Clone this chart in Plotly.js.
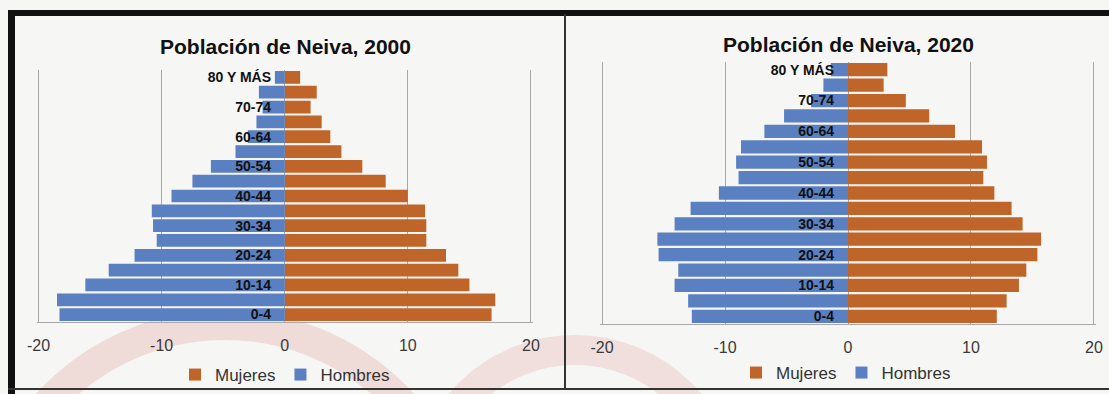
<!DOCTYPE html>
<html>
<head>
<meta charset="utf-8">
<script src="https://cdn.plot.ly/plotly-3.0.1.min.js"></script>
<style>html,body{margin:0;padding:0;background:#f6f6f4;}#chart{width:1109px;height:394px;}</style>
</head>
<body>
<div id="chart"></div>
<script>
// Age groups, bottom to top
const categories = ['0-4','5-9','10-14','15-19','20-24','25-29','30-34','35-39','40-44','45-49','50-54','55-59','60-64','65-69','70-74','75-79','80 Y MÁS'];
const shownLabels = ['0-4','10-14','20-24','30-34','40-44','50-54','60-64','70-74','80 Y MÁS'];
const mujeres2000 = [16.8,17.1,15.0,14.1,13.1,11.5,11.5,11.4,10.0,8.2,6.3,4.6,3.7,3.0,2.1,2.6,1.25];
const hombres2000 = [-18.3,-18.5,-16.2,-14.3,-12.2,-10.4,-10.7,-10.8,-9.2,-7.5,-6.0,-4.0,-3.0,-2.3,-1.8,-2.1,-0.8];
const mujeres2020 = [12.1,12.9,13.9,14.5,15.4,15.7,14.2,13.3,11.9,11.0,11.3,10.9,8.7,6.6,4.7,2.9,3.2];
const hombres2020 = [-12.7,-13.0,-14.1,-13.8,-15.4,-15.5,-14.1,-12.8,-10.5,-8.9,-9.1,-8.7,-6.8,-5.2,-3.0,-2.0,-1.4];
const xTicks = [-20,-10,0,10,20];
const titles = ['Población de Neiva, 2000','Población de Neiva, 2020'];
const seriesNames = ['Mujeres','Hombres'];

const W = 1109, H = 394;
const px = v => v / W, py = v => 1 - v / H;
const ORANGE = '#BF6529', BLUE = '#5B80C2';
const FONT = 'Liberation Sans, Arial, sans-serif';

const traces = [
  {type:'bar', orientation:'h', y:categories, x:mujeres2000, name:seriesNames[0], marker:{color:ORANGE}, xaxis:'x', yaxis:'y', legend:'legend'},
  {type:'bar', orientation:'h', y:categories, x:hombres2000, name:seriesNames[1], marker:{color:BLUE}, xaxis:'x', yaxis:'y', legend:'legend'},
  {type:'bar', orientation:'h', y:categories, x:mujeres2020, name:seriesNames[0], marker:{color:ORANGE}, xaxis:'x2', yaxis:'y2', legend:'legend2'},
  {type:'bar', orientation:'h', y:categories, x:hombres2020, name:seriesNames[1], marker:{color:BLUE}, xaxis:'x2', yaxis:'y2', legend:'legend2'}
];

function xax(domain, anchor){
  return {domain:domain, anchor:anchor, range:[-20.15,20.15], tickvals:xTicks, ticktext:xTicks.map(String),
    showgrid:true, gridcolor:'#a8a8a8', gridwidth:1, zeroline:false, showline:true, linecolor:'#a8a8a8', linewidth:1,
    mirror:false, ticks:'outside', ticklen:9, tickcolor:'rgba(0,0,0,0)',
    tickfont:{family:FONT, size:16, color:'#3a3a3a'}, fixedrange:true};
}
function yax(domain, pos){
  return {domain:domain, anchor:'free', position:pos, type:'category', categoryorder:'array', categoryarray:categories,
    tickvals:shownLabels, ticktext:shownLabels, showgrid:false, zeroline:false, showline:false, ticks:'',
    tickfont:{family:FONT, size:14, color:'#111', weight:'bold'}, layer:'above traces', fixedrange:true};
}

const ring = (cx, cy, r, w, col) => ({type:'circle', xref:'paper', yref:'paper', layer:'below',
  x0:px(cx-r), x1:px(cx+r), y0:py(cy+r), y1:py(cy-r), line:{color:col, width:w}, fillcolor:'rgba(0,0,0,0)'});
const rect = (x0,y0,x1,y1,col) => ({type:'rect', xref:'paper', yref:'paper', layer:'above',
  x0:px(x0), x1:px(x1), y0:py(y1), y1:py(y0), line:{width:0}, fillcolor:col});

const layout = {
  width:W, height:H, margin:{l:0,r:0,t:0,b:0},
  paper_bgcolor:'#f6f6f4', plot_bgcolor:'rgba(0,0,0,0)',
  barmode:'relative', bargap:0.14, showlegend:true,
  xaxis: xax([px(36.7), px(532.8)], 'y'),
  yaxis: yax([py(322), py(70)], px(271)),
  xaxis2: xax([px(600.2), px(1095.8)], 'y2'),
  yaxis2: yax([py(324), py(62)], px(834)),
  legend: {orientation:'h', x:px(285), y:py(375), xanchor:'center', yanchor:'middle', bgcolor:'rgba(0,0,0,0)',
    font:{family:FONT, size:17, color:'#333'}, traceorder:'normal', itemwidth:30},
  legend2: {orientation:'h', x:px(846), y:py(373), xanchor:'center', yanchor:'middle', bgcolor:'rgba(0,0,0,0)',
    font:{family:FONT, size:17, color:'#333'}, traceorder:'normal', itemwidth:30},
  annotations: [
    {text:titles[0], xref:'paper', yref:'paper', x:px(285), y:py(46), xanchor:'center', yanchor:'middle', showarrow:false,
      font:{family:FONT, size:21, color:'#111', weight:'bold'}},
    {text:titles[1], xref:'paper', yref:'paper', x:px(848), y:py(44), xanchor:'center', yanchor:'middle', showarrow:false,
      font:{family:FONT, size:21, color:'#111', weight:'bold'}}
  ],
  shapes: [
    ring(225, 565, 240, 30, 'rgba(228,180,175,0.42)'),
    ring(575, 500, 150, 30, 'rgba(228,180,175,0.35)'),
    rect(8, 10, W, 16, '#111'),
    rect(8, 10, 15, H, '#111'),
    rect(564, 14, 566, 390, '#333'),
    rect(8, 388, W, 390, '#333')
  ]
};

Plotly.newPlot('chart', traces, layout, {displayModeBar:false, staticPlot:true});
</script>
</body>
</html>
